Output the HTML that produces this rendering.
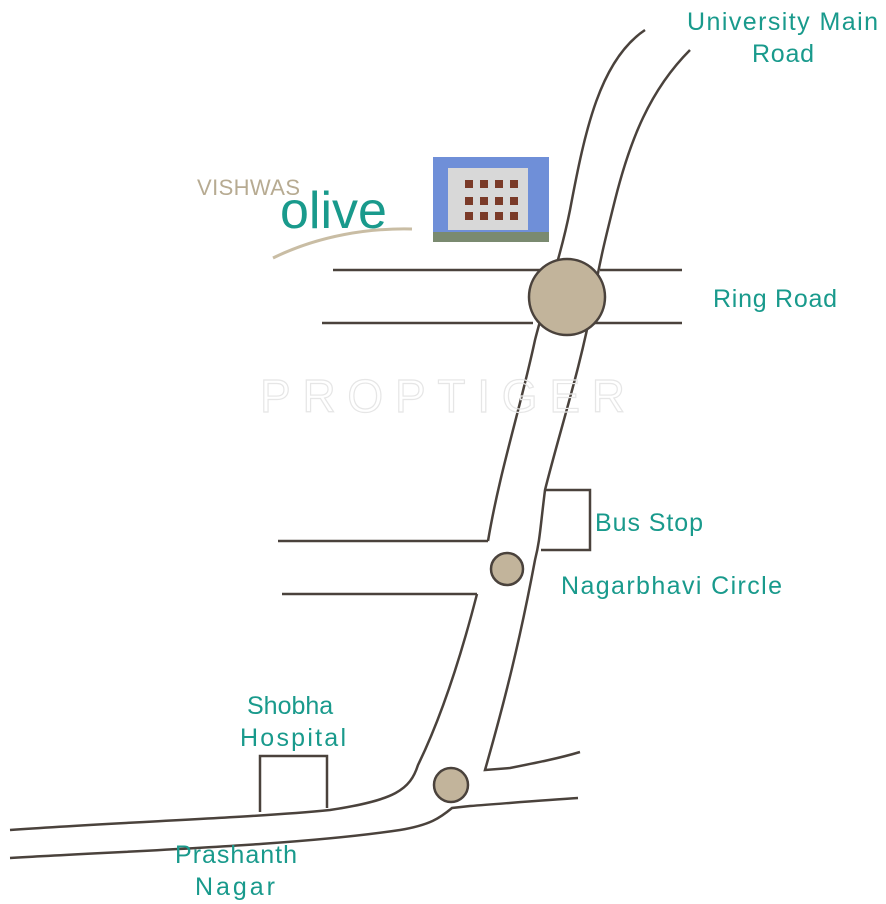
<!DOCTYPE html>
<html><head><meta charset="utf-8"><style>
html,body{margin:0;padding:0;background:#fff;}
svg{display:block;}
text{font-family:"Liberation Sans",sans-serif;fill:#199a8c;}
</style></head><body>
<svg width="886" height="904" viewBox="0 0 886 904">
<g fill="none" stroke="#4a423c" stroke-width="2.5">
<path d="M645,30 C600,60 585,130 570,210 C560,260 545,300 535,340 C520,410 500,470 488,541"/>
<path d="M477,594 C460,660 440,720 418,765 C410,790 395,800 330,810 C250,818 120,822 10,830"/>
<path d="M690,50 C650,90 630,140 615,200 C605,240 600,260 593,300 C580,370 560,430 545,490 C540,530 540,540 535,560 C520,640 505,700 485,770 L510,768 C540,762 560,758 580,752"/>
<path d="M10,858 C150,850 300,845 400,830 C430,825 440,818 452,808 L470,806 C510,803 545,800 578,798"/>
<line x1="333" y1="270" x2="550" y2="270"/>
<line x1="322" y1="323" x2="533" y2="323"/>
<line x1="600" y1="270" x2="682" y2="270"/>
<line x1="590" y1="323" x2="682" y2="323"/>
<line x1="278" y1="541" x2="488" y2="541"/>
<line x1="282" y1="594" x2="477" y2="594"/>
<polyline points="545,490 590,490 590,550 541,550"/>
<polyline points="260,812 260,756 327,756 327,808"/>
</g>
<g fill="#c2b49b" stroke="#4a423c" stroke-width="2.5">
<circle cx="567" cy="297" r="38"/>
<circle cx="507" cy="569" r="16"/>
<circle cx="451" cy="785" r="17"/>
</g>
<text x="260" y="412" font-size="46" textLength="365" lengthAdjust="spacing" stroke="#e6e6e6" stroke-width="1.2" style="fill:none">PROPTIGER</text>
<text x="197" y="195" font-size="22" style="fill:#b7ab92" textLength="103">VISHWAS</text>
<text x="280" y="228" font-size="52">olive</text>
<path d="M273,258 C320,235 370,228 412,229" stroke="#c9bda4" stroke-width="3" fill="none"/>
<rect x="433" y="157" width="116" height="85" fill="#6f8fd8"/>
<rect x="448" y="168" width="80" height="62" fill="#d8d8d8"/>
<g fill="#7a3a28"><rect x="465" y="180" width="8" height="8"/><rect x="480" y="180" width="8" height="8"/><rect x="495" y="180" width="8" height="8"/><rect x="510" y="180" width="8" height="8"/>
<rect x="465" y="197" width="8" height="8"/><rect x="480" y="197" width="8" height="8"/><rect x="495" y="197" width="8" height="8"/><rect x="510" y="197" width="8" height="8"/>
<rect x="465" y="212" width="8" height="8"/><rect x="480" y="212" width="8" height="8"/><rect x="495" y="212" width="8" height="8"/><rect x="510" y="212" width="8" height="8"/></g>
<rect x="433" y="232" width="116" height="10" fill="#7a8a70"/>
<g font-size="25">
<text x="687" y="30" textLength="191">University Main</text>
<text x="752" y="62" textLength="62">Road</text>
<text x="713" y="307" textLength="124">Ring Road</text>
<text x="595" y="531" textLength="108">Bus Stop</text>
<text x="561" y="594" textLength="221">Nagarbhavi Circle</text>
<text x="247" y="714">Shobha</text>
<text x="240" y="746" textLength="106">Hospital</text>
<text x="175" y="863" textLength="122">Prashanth</text>
<text x="195" y="895" textLength="80">Nagar</text>
</g>
</svg>
</body></html>
